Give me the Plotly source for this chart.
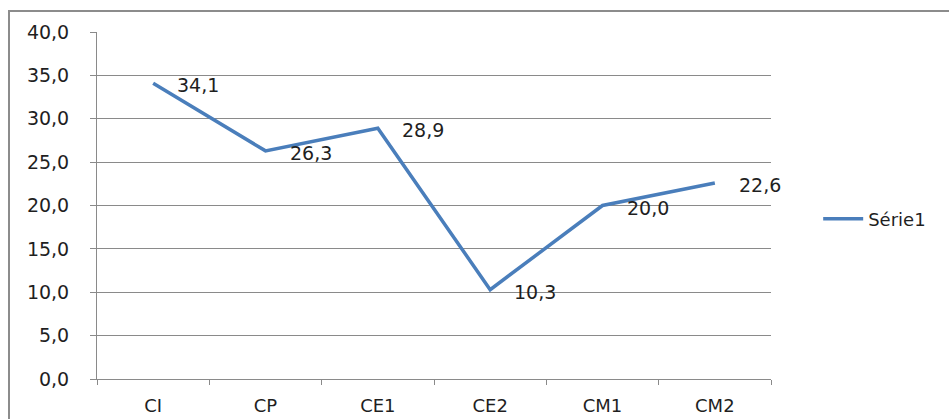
import plotly.graph_objects as go

# Values per school level
levels = ["CI", "CP", "CE1", "CE2", "CM1", "CM2"]
values = [34.1, 26.3, 28.9, 10.3, 20.0, 22.6]
series_name = "Série1"
y_ticks = [0, 5, 10, 15, 20, 25, 30, 35, 40]

FONT = "DejaVu Sans"
TEXT = "#1f1f1f"
GRID = "#8a8a8a"
LINE = "#4A7EBB"

fig = go.Figure()
fig.add_trace(go.Scatter(
    x=levels, y=values, mode="lines", name=series_name,
    line=dict(color=LINE, width=3.5),
))

def fr(v):
    return f"{v:.1f}".replace(".", ",")

# Value labels to the right of each point
for lv, v in zip(levels, values):
    fig.add_annotation(
        x=lv, y=v, text=fr(v), showarrow=False,
        xanchor="left", yanchor="middle", xshift=22, yshift=-2,
        font=dict(family=FONT, size=19, color=TEXT),
    )

# Outer chart frame
fig.add_shape(
    type="rect", xref="paper", yref="paper",
    x0=(9 - 97) / 674, x1=(980 - 97) / 674,
    y0=(379 - 440) / 347, y1=(379 - 11) / 347,
    line=dict(color="#8c8c8c", width=2), fillcolor="rgba(0,0,0,0)",
    layer="below",
)

fig.update_layout(
    width=949, height=419,
    margin=dict(l=97, r=178, t=32, b=40),
    paper_bgcolor="white", plot_bgcolor="white",
    separators=", ",
    font=dict(family=FONT, size=18, color=TEXT),
    showlegend=True,
    legend=dict(
        x=1.07, xanchor="left", y=(379 - 219) / 347, yanchor="middle",
        font=dict(family=FONT, size=18, color=TEXT),
        bgcolor="rgba(0,0,0,0)", itemwidth=40,
    ),
)

fig.update_xaxes(
    type="category", range=[-0.5, 5.5], automargin=False,
    showline=True, linecolor=GRID, linewidth=1,
    ticks="outside", ticklen=5, tickcolor=GRID, tickson="boundaries",
    showgrid=False, ticklabelstandoff=10,
    tickfont=dict(family=FONT, size=18, color=TEXT),
)
fig.update_yaxes(
    range=[0, 40], tickvals=y_ticks, ticktext=[fr(t) for t in y_ticks],
    automargin=False,
    showline=True, linecolor=GRID, linewidth=1,
    ticks="outside", ticklen=6, tickcolor=GRID,
    showgrid=True, gridcolor=GRID, gridwidth=1,
    zeroline=False, ticklabelstandoff=17,
    tickfont=dict(family=FONT, size=19, color=TEXT),
)

fig.write_html("out.html")
